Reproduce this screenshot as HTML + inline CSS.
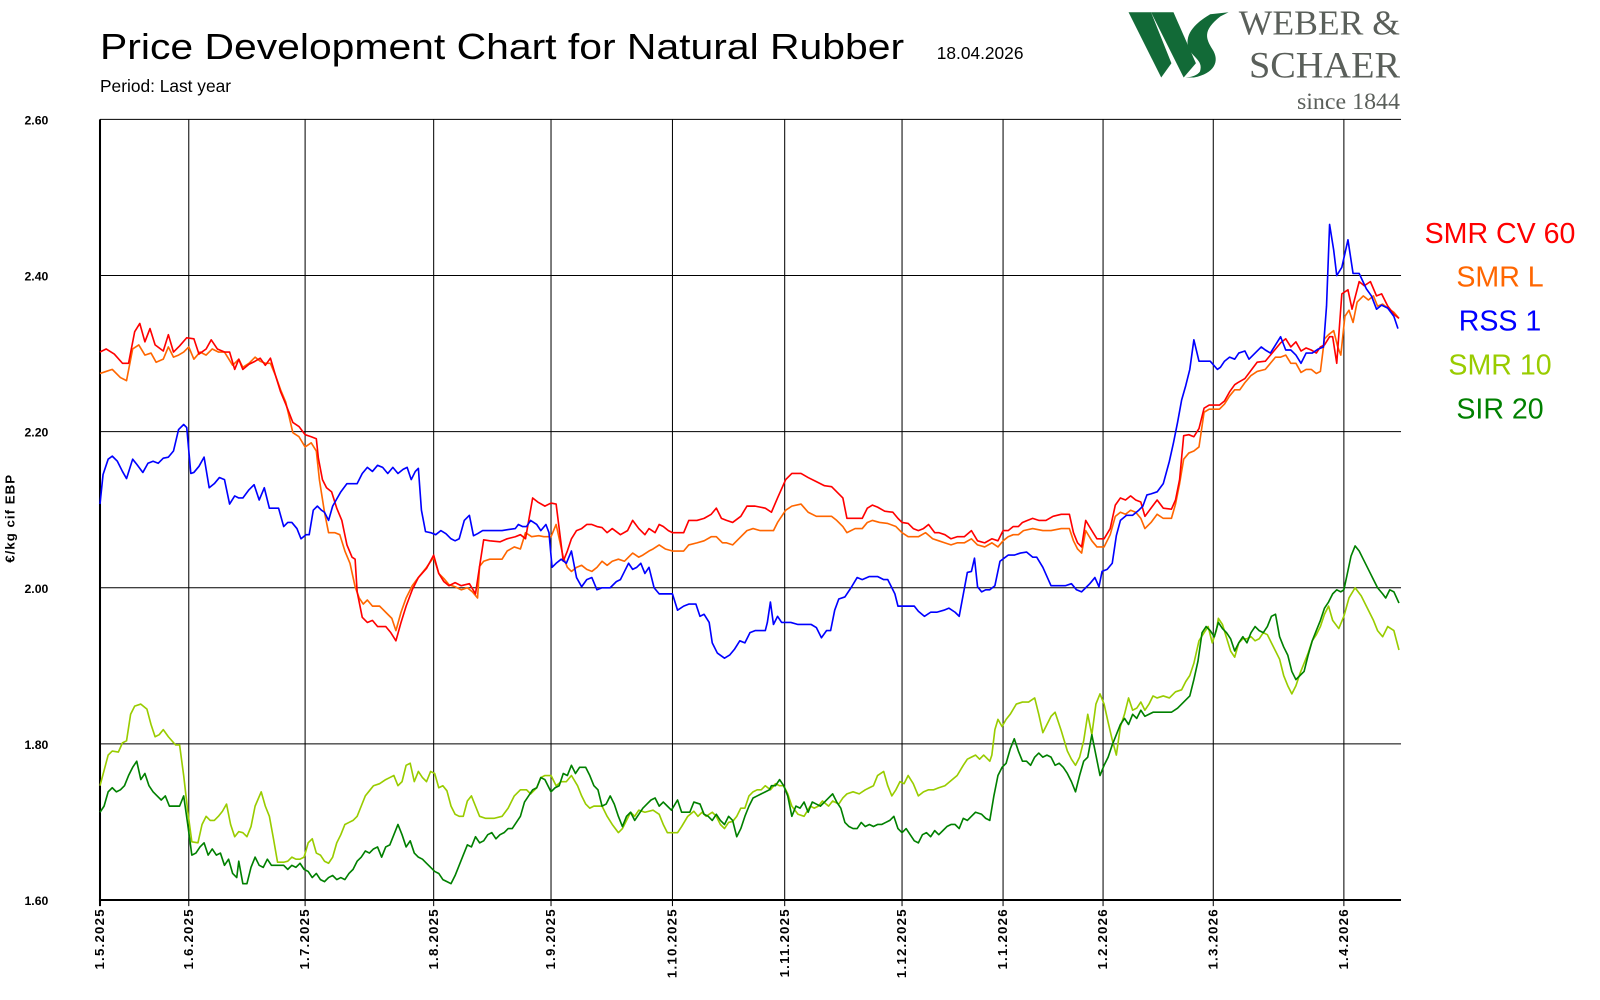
<!DOCTYPE html>
<html><head><meta charset="utf-8"><style>html,body{margin:0;padding:0;background:#fff;}svg{display:block}</style></head>
<body>
<svg width="1600" height="1000" viewBox="0 0 1568 980" xmlns="http://www.w3.org/2000/svg" font-family="'Liberation Sans', 'DejaVu Sans', sans-serif">
<rect width="1568" height="980" fill="#fff"/>
<text x="98" y="58" font-size="35" textLength="788" lengthAdjust="spacingAndGlyphs" fill="#000">Price Development Chart for Natural Rubber</text>
<text x="918" y="58" font-size="17" fill="#000">18.04.2026</text>
<text x="98" y="90" font-size="17" fill="#000">Period: Last year</text>
<!-- logo -->
<g fill="#126a37">
<polygon points="1106,12 1128,12 1148,62 1138,76"/>
<polygon points="1128,12 1150,12 1172,62 1160,76"/>
<path d="M1186,14 C1176,20 1162,30 1164,44 C1166,56 1180,58 1176,70 C1172,76 1162,76 1160,76 L1170,76 C1190,72 1196,60 1188,48 C1182,38 1178,30 1196,16 L1204,12 Z"/>
</g>
<g font-family="'Liberation Serif', serif" fill="#5a5f5a">
<text x="1372" y="34" font-size="34" text-anchor="end" textLength="158" lengthAdjust="spacingAndGlyphs">WEBER &amp;</text>
<text x="1372" y="76" font-size="36" text-anchor="end" textLength="148" lengthAdjust="spacingAndGlyphs">SCHAER</text>
<text x="1372" y="107" font-size="23" text-anchor="end" textLength="101" lengthAdjust="spacingAndGlyphs">since 1844</text>
</g>
<!-- grid -->
<g stroke="#000" stroke-width="1">
<line x1="98" y1="117" x2="1373" y2="117"/>
<line x1="98" y1="270" x2="1373" y2="270"/>
<line x1="98" y1="423" x2="1373" y2="423"/>
<line x1="98" y1="576" x2="1373" y2="576"/>
<line x1="98" y1="729" x2="1373" y2="729"/>
<line x1="185" y1="117" x2="185" y2="888"/>
<line x1="299" y1="117" x2="299" y2="888"/>
<line x1="425" y1="117" x2="425" y2="888"/>
<line x1="540" y1="117" x2="540" y2="888"/>
<line x1="659" y1="117" x2="659" y2="888"/>
<line x1="769" y1="117" x2="769" y2="888"/>
<line x1="884" y1="117" x2="884" y2="888"/>
<line x1="983" y1="117" x2="983" y2="888"/>
<line x1="1081" y1="117" x2="1081" y2="888"/>
<line x1="1189" y1="117" x2="1189" y2="888"/>
<line x1="1317" y1="117" x2="1317" y2="888"/>
</g>
<line x1="98" y1="117" x2="98" y2="888" stroke="#000" stroke-width="2"/>
<line x1="97" y1="882" x2="1373" y2="882" stroke="#000" stroke-width="2"/>
<g font-size="12" font-weight="bold" fill="#000">
<text x="24" y="122">2.60</text><text x="24" y="275">2.40</text><text x="24" y="428">2.20</text>
<text x="24" y="581">2.00</text><text x="24" y="734">1.80</text><text x="24" y="887">1.60</text>
<text transform="translate(14,508) rotate(-90)" text-anchor="middle" font-size="13" letter-spacing="1">€/kg cif EBP</text>
</g>
<g font-size="13" font-weight="bold" fill="#000" text-anchor="end" letter-spacing="1.2">
<text transform="translate(102,890) rotate(-90)">1.5.2025</text>
<text transform="translate(189,890) rotate(-90)">1.6.2025</text>
<text transform="translate(303,890) rotate(-90)">1.7.2025</text>
<text transform="translate(429,890) rotate(-90)">1.8.2025</text>
<text transform="translate(544,890) rotate(-90)">1.9.2025</text>
<text transform="translate(663,890) rotate(-90)">1.10.2025</text>
<text transform="translate(773,890) rotate(-90)">1.11.2025</text>
<text transform="translate(888,890) rotate(-90)">1.12.2025</text>
<text transform="translate(987,890) rotate(-90)">1.1.2026</text>
<text transform="translate(1085,890) rotate(-90)">1.2.2026</text>
<text transform="translate(1193,890) rotate(-90)">1.3.2026</text>
<text transform="translate(1321,890) rotate(-90)">1.4.2026</text>
</g>
<g fill="none" stroke-width="1.6" stroke-linejoin="round">
<polyline stroke="#99cc00" points="98,770 102,755 106,740 110,736 116,737 120,728 124,726 128,700 132,692 138,690 144,695 148,710 152,722 156,720 160,715 165,722 172,730 176,730 180,760 184,795 188,825 194,826 198,808 202,800 206,804 210,804 214,800 218,795 222,788 226,808 230,820 234,815 238,816 242,820 246,810 250,790 256,776 260,790 264,800 268,822 272,845 278,845 282,844 286,840 290,842 294,842 298,840 302,826 306,822 310,836 314,838 318,844 322,846 326,840 330,826 334,818 338,808 342,806 346,804 350,800 354,790 358,780 362,775 366,770 372,768 378,764 382,762 386,760 390,770 394,766 398,750 402,748 406,766 410,756 414,762 418,766 422,756 426,758 430,772 434,770 438,775 442,790 446,798 450,800 454,800 458,785 462,780 466,790 470,800 476,802 484,802 492,800 498,792 504,780 510,774 516,774 520,778 526,772 530,762 534,760 540,760 545,770 550,766 555,766 560,760 566,770 570,780 574,788 578,792 582,790 590,790 595,800 600,808 606,816 610,812 614,804 618,796 622,800 626,794 632,796 640,794 646,798 650,808 654,816 660,816 664,816 668,810 674,800 680,795 684,800 688,796 692,800 698,796 702,800 706,808 710,812 714,806 718,805 722,800 726,792 730,792 734,780 738,776 742,774 746,774 750,770 755,774 760,768 764,770 768,770 772,778 776,790 782,798 788,800 794,790 798,792 802,790 806,785 812,790 816,785 822,788 826,782 830,778 836,776 842,778 848,774 852,772 856,770 860,760 866,756 870,770 874,780 878,774 882,766 886,768 890,760 895,768 900,780 905,776 910,774 915,774 920,772 926,770 932,765 938,760 944,750 948,744 952,742 956,740 960,744 964,740 970,746 972,740 975,715 978,705 982,712 986,705 990,700 996,690 1002,688 1008,688 1014,684 1018,700 1022,718 1026,710 1030,702 1034,698 1040,716 1046,736 1050,744 1054,750 1058,742 1062,726 1066,700 1070,720 1074,690 1078,680 1082,690 1086,708 1090,725 1094,740 1098,712 1102,700 1106,684 1110,696 1114,694 1118,688 1122,696 1126,690 1130,682 1134,684 1140,682 1146,684 1152,678 1158,676 1162,668 1166,662 1170,650 1175,628 1180,620 1184,614 1188,630 1192,618 1194,606 1198,612 1202,625 1206,638 1210,644 1214,630 1218,626 1222,626 1226,624 1230,628 1234,626 1238,620 1242,622 1246,630 1250,638 1254,646 1258,662 1262,672 1266,680 1270,672 1274,660 1278,650 1282,640 1286,628 1290,622 1294,614 1298,602 1302,594 1306,608 1312,616 1317,604 1322,586 1328,576 1334,584 1340,596 1346,608 1350,618 1355,624 1360,614 1366,618 1371,637"/>
<polyline stroke="#008000" points="98,796 102,790 106,776 110,772 114,776 118,774 122,770 126,760 130,752 134,746 138,764 142,758 146,770 150,776 154,780 158,784 162,780 166,790 170,790 176,790 180,780 184,808 188,838 192,836 196,830 200,826 204,838 208,832 212,838 216,836 220,848 224,842 228,856 232,860 234,844 238,866 242,866 246,850 250,840 254,848 258,850 262,842 266,848 270,848 274,848 278,848 282,852 286,848 290,850 294,846 298,852 302,854 306,860 310,856 314,862 318,864 322,860 326,858 330,862 334,860 338,862 342,856 346,852 350,844 354,840 358,834 362,836 366,832 370,830 374,840 378,830 382,828 386,818 390,808 394,818 398,830 402,824 406,836 410,840 414,842 418,846 422,850 426,854 430,856 434,862 438,864 442,866 446,858 450,848 454,838 458,828 462,830 466,820 470,826 474,824 478,818 482,816 486,822 490,818 494,816 498,812 502,812 506,806 510,800 514,786 518,780 522,774 526,772 530,762 534,764 540,776 544,772 548,770 552,758 556,760 560,750 564,758 568,752 574,752 578,760 582,770 586,774 590,790 594,788 598,780 602,788 606,800 610,810 614,800 618,796 622,804 626,798 630,792 634,788 638,784 642,782 646,790 650,786 654,790 658,794 664,784 668,796 672,796 676,796 680,786 686,788 690,798 694,800 698,804 702,798 706,804 710,808 714,800 718,804 722,820 726,812 730,800 734,790 738,782 742,780 746,778 750,776 754,774 756,770 760,770 764,764 768,770 772,780 776,800 780,790 784,792 788,786 792,796 796,786 800,788 804,790 808,786 812,782 816,778 820,786 824,792 828,806 832,810 836,812 840,812 844,806 848,810 852,808 856,810 860,808 864,808 868,806 872,804 876,800 880,812 884,816 888,812 892,818 896,824 900,826 904,818 908,816 912,820 916,814 920,818 924,814 928,810 932,808 936,808 940,812 944,802 948,804 952,800 956,796 962,798 966,802 970,804 974,780 978,760 982,752 986,748 990,734 994,724 998,736 1002,746 1006,746 1010,750 1014,742 1018,738 1022,742 1026,740 1030,742 1034,750 1038,748 1042,752 1046,758 1050,766 1054,776 1058,760 1062,746 1066,742 1070,720 1074,740 1078,760 1082,750 1086,742 1090,730 1094,720 1098,710 1102,704 1106,710 1110,700 1114,704 1118,696 1122,702 1126,700 1130,698 1134,698 1140,698 1148,698 1154,694 1160,688 1166,682 1170,666 1174,648 1178,620 1182,614 1186,618 1190,624 1194,610 1198,616 1202,620 1206,626 1210,638 1214,630 1218,624 1222,630 1226,620 1230,614 1234,618 1238,620 1242,614 1246,604 1250,602 1254,624 1258,634 1262,642 1266,658 1270,666 1274,662 1278,658 1282,642 1286,628 1290,618 1294,608 1298,596 1302,590 1306,582 1310,578 1314,580 1317,578 1320,564 1324,545 1328,535 1332,540 1336,548 1342,560 1346,568 1350,576 1355,582 1358,586 1362,578 1366,580 1371,591"/>
<polyline stroke="#ff6600" points="98,366 104,364 110,362 118,370 124,373 130,342 136,338 142,348 148,346 153,355 160,352 165,340 170,350 175,348 180,345 185,340 190,352 196,345 202,348 208,342 214,345 220,345 228,358 234,352 238,360 244,356 250,350 255,354 260,356 265,356 270,368 275,382 280,394 287,424 293,428 299,438 305,434 310,442 313,470 318,502 322,522 328,522 333,524 338,540 343,552 348,575 352,586 356,592 360,588 365,594 372,594 378,600 384,606 388,618 393,600 398,586 404,574 410,566 418,556 425,546 430,562 435,567 440,573 446,575 452,578 458,576 463,580 468,586 470,555 474,550 480,548 492,548 497,540 504,536 510,538 515,522 521,526 528,525 533,526 540,526 545,514 552,546 556,556 560,560 565,556 570,554 575,558 580,560 585,556 590,550 595,554 600,550 606,548 612,550 620,542 626,546 630,544 636,540 640,538 646,534 652,538 659,540 670,540 675,534 683,532 690,530 697,526 702,526 708,532 712,532 718,534 724,528 732,520 738,518 745,520 752,520 758,520 762,512 770,500 776,496 785,494 792,502 800,506 808,506 815,506 820,510 826,516 830,522 838,518 845,518 850,512 855,510 862,512 870,513 878,516 884,522 890,526 900,526 907,522 914,528 920,530 926,532 932,534 938,532 945,532 952,528 958,534 965,536 972,532 978,536 983,530 988,526 993,524 998,524 1003,520 1012,518 1022,520 1030,520 1040,518 1048,518 1052,530 1056,538 1060,542 1064,520 1070,530 1075,536 1082,536 1088,524 1093,506 1098,502 1103,504 1108,500 1113,502 1118,508 1122,518 1128,512 1134,504 1140,508 1148,508 1152,494 1156,474 1160,450 1165,444 1170,442 1175,438 1180,404 1185,401 1195,401 1200,396 1205,388 1210,382 1215,382 1220,375 1226,368 1232,364 1240,362 1245,356 1250,350 1255,350 1260,348 1265,356 1270,356 1275,365 1280,362 1285,362 1290,366 1294,364 1298,332 1302,328 1307,324 1311,340 1314,348 1318,310 1322,304 1326,316 1330,296 1336,290 1341,294 1346,290 1350,300 1355,298 1360,302 1366,306 1371,312"/>
<polyline stroke="#ff0000" points="98,345 104,342 112,347 120,356 126,356 132,325 137,317 142,335 147,322 152,338 160,344 165,328 170,345 176,339 183,331 190,332 195,347 202,342 207,333 213,342 220,345 225,345 230,362 234,352 238,362 244,357 250,354 255,351 260,358 265,351 270,368 275,384 280,396 287,414 293,418 299,426 305,428 310,430 312,449 316,470 320,478 325,482 330,498 335,510 340,534 345,546 348,548 350,580 355,605 360,610 365,608 370,614 378,614 383,620 388,628 393,610 398,594 404,578 410,566 418,557 425,544 430,562 435,570 440,574 446,571 452,574 460,572 466,582 470,555 474,529 480,530 490,531 497,528 505,526 510,524 515,528 522,488 527,492 534,496 540,493 545,494 552,550 556,540 560,528 565,520 570,518 575,514 580,514 585,516 590,517 595,522 600,518 608,524 615,520 620,510 626,518 632,524 636,518 642,522 646,514 650,516 655,520 659,522 670,522 675,510 683,510 690,508 697,504 702,498 707,508 712,510 718,512 726,506 732,496 740,496 750,498 756,502 762,488 770,470 776,464 785,464 792,468 800,472 808,476 815,477 820,482 826,488 830,508 838,508 845,508 850,498 855,495 860,497 867,501 875,502 880,508 884,512 890,513 895,518 900,520 905,518 910,514 916,522 920,522 926,524 932,528 938,526 945,526 952,520 958,530 965,532 972,528 978,530 983,520 988,520 993,516 998,516 1002,512 1007,510 1012,508 1018,510 1025,510 1032,506 1040,504 1048,504 1052,522 1056,532 1060,536 1064,510 1070,520 1075,528 1082,528 1088,518 1093,495 1098,488 1103,490 1108,486 1113,490 1118,492 1122,506 1128,498 1134,490 1140,498 1148,499 1152,490 1156,470 1160,427 1165,426 1170,428 1175,420 1180,400 1185,397 1195,397 1200,393 1205,384 1210,377 1213,375 1220,371 1226,363 1232,355 1240,354 1245,348 1250,342 1255,336 1260,332 1265,340 1270,335 1275,344 1280,341 1285,343 1290,346 1294,340 1298,338 1303,330 1306,330 1310,356 1315,288 1321,284 1325,303 1332,276 1337,280 1343,276 1349,290 1354,288 1360,300 1366,308 1371,312"/>
<polyline stroke="#0000ff" points="98,494 101,465 106,450 110,447 115,452 120,462 124,469 130,450 134,455 140,463 145,454 150,452 155,454 160,449 165,448 170,442 175,421 180,416 183,419 187,464 190,463 195,457 200,448 205,478 210,474 215,468 220,470 225,494 230,486 234,488 238,488 244,480 249,475 254,490 259,478 264,498 268,498 273,498 278,516 282,512 286,512 291,518 295,528 300,524 303,524 307,500 311,496 315,500 318,502 322,510 326,496 330,489 334,482 340,474 345,474 350,474 355,464 360,458 365,462 370,456 375,458 380,464 385,458 390,464 395,460 399,458 403,470 407,462 410,459 413,500 417,521 422,522 427,524 432,520 437,523 442,528 446,530 450,528 455,510 460,505 464,525 468,523 473,520 478,520 486,520 492,520 498,519 505,518 508,514 512,516 516,516 520,510 526,514 530,520 535,514 538,522 541,556 545,552 550,548 555,552 560,540 565,566 570,575 575,568 580,566 585,578 590,576 598,576 604,570 608,568 612,560 616,552 620,558 624,556 628,552 632,562 636,556 641,576 646,582 652,582 659,582 664,598 670,594 675,592 682,592 686,604 690,602 695,610 698,630 703,640 710,645 715,642 720,636 725,628 730,630 735,620 740,618 750,618 752,610 755,590 758,612 762,604 766,610 775,610 782,612 795,612 800,615 805,625 810,618 814,618 818,598 822,587 828,585 834,576 840,566 845,568 852,565 860,565 866,568 870,568 877,582 880,594 888,594 896,594 900,599 906,604 912,600 918,600 925,598 930,596 936,600 940,604 948,561 952,560 955,547 958,575 962,580 966,578 970,578 975,574 980,550 984,547 988,544 994,544 1000,542 1006,541 1012,546 1016,546 1022,556 1030,574 1036,574 1044,574 1050,572 1055,578 1060,580 1064,576 1068,572 1073,566 1077,575 1080,560 1085,558 1090,552 1094,525 1098,510 1104,505 1110,505 1116,500 1120,496 1124,485 1128,484 1134,482 1137,478 1140,474 1146,452 1150,434 1154,414 1158,392 1162,378 1166,362 1170,333 1175,354 1180,354 1186,354 1193,362 1196,360 1200,354 1205,350 1210,352 1214,346 1220,344 1224,352 1230,346 1236,340 1240,343 1245,346 1250,338 1255,330 1260,343 1265,343 1270,348 1275,356 1280,346 1286,346 1292,342 1297,340 1300,300 1303,220 1307,245 1310,270 1315,262 1321,235 1326,268 1332,268 1339,283 1344,290 1349,303 1354,299 1360,302 1366,310 1370,322"/>
</g>
<g font-size="28" text-anchor="middle">
<text x="1470" y="238" fill="#ff0000">SMR CV 60</text>
<text x="1470" y="281" fill="#ff6600">SMR L</text>
<text x="1470" y="324" fill="#0000ff">RSS 1</text>
<text x="1470" y="367" fill="#99cc00">SMR 10</text>
<text x="1470" y="410" fill="#008000">SIR 20</text>
</g>
</svg>
</body></html>
